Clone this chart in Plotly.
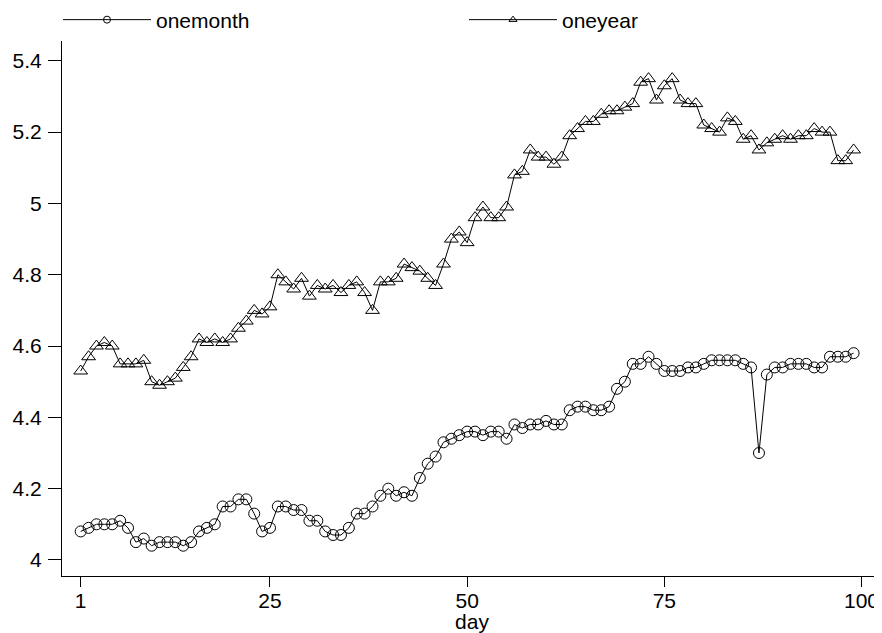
import plotly.graph_objects as go

days = list(range(1, 100))
onemonth = [4.08, 4.09, 4.10, 4.10, 4.10, 4.11, 4.09, 4.05, 4.06, 4.04,
            4.05, 4.05, 4.05, 4.04, 4.05, 4.08, 4.09, 4.10, 4.15, 4.15,
            4.17, 4.17, 4.13, 4.08, 4.09, 4.15, 4.15, 4.14, 4.14, 4.11,
            4.11, 4.08, 4.07, 4.07, 4.09, 4.13, 4.13, 4.15, 4.18, 4.20,
            4.18, 4.19, 4.18, 4.23, 4.27, 4.29, 4.33, 4.34, 4.35, 4.36,
            4.36, 4.35, 4.36, 4.36, 4.34, 4.38, 4.37, 4.38, 4.38, 4.39,
            4.38, 4.38, 4.42, 4.43, 4.43, 4.42, 4.42, 4.43, 4.48, 4.50,
            4.55, 4.55, 4.57, 4.55, 4.53, 4.53, 4.53, 4.54, 4.54, 4.55,
            4.56, 4.56, 4.56, 4.56, 4.55, 4.54, 4.30, 4.52, 4.54, 4.54,
            4.55, 4.55, 4.55, 4.54, 4.54, 4.57, 4.57, 4.57, 4.58]
oneyear = [4.53, 4.57, 4.60, 4.61, 4.60, 4.55, 4.55, 4.55, 4.56, 4.50,
           4.49, 4.50, 4.51, 4.54, 4.57, 4.62, 4.61, 4.62, 4.61, 4.62,
           4.65, 4.67, 4.70, 4.69, 4.71, 4.80, 4.78, 4.76, 4.79, 4.74,
           4.77, 4.76, 4.77, 4.75, 4.77, 4.78, 4.75, 4.70, 4.78, 4.78,
           4.79, 4.83, 4.82, 4.81, 4.79, 4.77, 4.83, 4.90, 4.92, 4.89,
           4.96, 4.99, 4.96, 4.96, 4.99, 5.08, 5.09, 5.15, 5.13, 5.13,
           5.11, 5.13, 5.19, 5.21, 5.23, 5.23, 5.25, 5.26, 5.26, 5.27,
           5.28, 5.34, 5.35, 5.29, 5.33, 5.35, 5.29, 5.28, 5.28, 5.22,
           5.21, 5.20, 5.24, 5.23, 5.18, 5.19, 5.15, 5.17, 5.18, 5.19,
           5.18, 5.19, 5.19, 5.21, 5.20, 5.20, 5.12, 5.12, 5.15]

x_ticks = [1, 25, 50, 75, 100]
y_ticks = [4, 4.2, 4.4, 4.6, 4.8, 5, 5.2, 5.4]
y_tick_labels = ["4", "4.2", "4.4", "4.6", "4.8", "5", "5.2", "5.4"]

FONT = "Liberation Sans, Arial, sans-serif"
W, H = 874, 625  # page body has an 8px margin

fig = go.Figure()
fig.add_trace(go.Scatter(
    x=days, y=onemonth, mode="lines+markers", showlegend=False,
    line=dict(color="black", width=1),
    marker=dict(symbol="circle-open", size=11, color="black", line=dict(width=1)),
))
fig.add_trace(go.Scatter(
    x=days, y=oneyear, mode="lines+markers", showlegend=False,
    line=dict(color="black", width=1),
    marker=dict(symbol="triangle-up-open", size=12, color="black", line=dict(width=1)),
))
# legend entries (smaller symbols as in the reference)
fig.add_trace(go.Scatter(
    x=[None], y=[None], mode="lines+markers", name="onemonth", legend="legend",
    line=dict(color="black", width=1),
    marker=dict(symbol="circle-open", size=7, color="black", line=dict(width=1)),
))
fig.add_trace(go.Scatter(
    x=[None], y=[None], mode="lines+markers", name="oneyear", legend="legend2",
    line=dict(color="black", width=1),
    marker=dict(symbol="triangle-up-open", size=7, color="black", line=dict(width=1)),
))

fig.update_layout(
    width=W, height=H,
    margin=dict(l=54, r=0, t=32, b=57),
    paper_bgcolor="white", plot_bgcolor="white",
    font=dict(family=FONT, size=21, color="black"),
    legend=dict(xref="container", yref="container", x=50 / W, y=1 - 12 / H,
                xanchor="left", yanchor="middle", orientation="h",
                itemwidth=88, bgcolor="rgba(0,0,0,0)", font=dict(size=21)),
    legend2=dict(xref="container", yref="container", x=456 / W, y=1 - 12 / H,
                 xanchor="left", yanchor="middle", orientation="h",
                 itemwidth=88, bgcolor="rgba(0,0,0,0)", font=dict(size=21)),
    xaxis=dict(
        range=[-1.37, 102.6], tickvals=x_ticks, ticktext=[str(t) for t in x_ticks],
        showgrid=False, zeroline=False, showline=True, linecolor="black", linewidth=1,
        ticks="outside", ticklen=10, tickcolor="black", automargin=False,
        ticklabelstandoff=-4,
        title=dict(text="day", standoff=0, font=dict(size=21)),
        tickfont=dict(size=21),
    ),
    yaxis=dict(
        range=[3.955, 5.457], tickvals=y_ticks, ticktext=y_tick_labels,
        showgrid=False, zeroline=False, showline=True, linecolor="black", linewidth=1,
        ticks="outside", ticklen=13, tickcolor="black", automargin=False,
        ticklabelstandoff=2,
        tickfont=dict(size=21),
    ),
)

fig.write_html("out.html")
